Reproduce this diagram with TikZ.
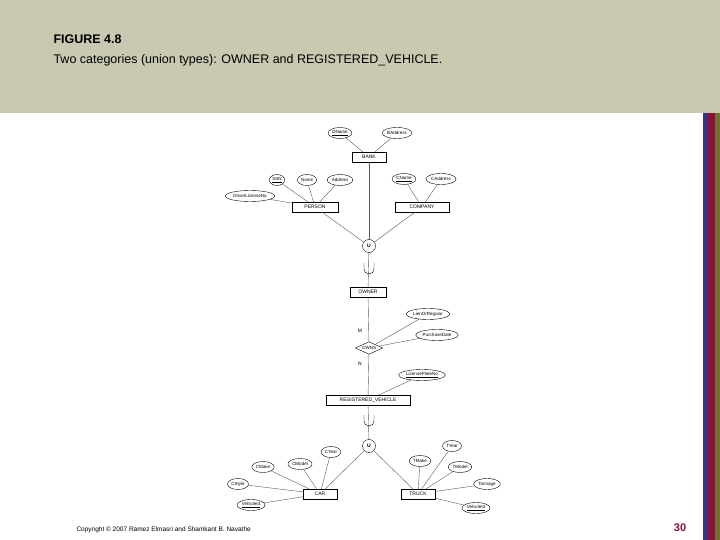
\documentclass[tikz,border=0pt]{standalone}
\usepackage{fontspec}
\setmainfont{Liberation Sans}
\usetikzlibrary{shapes.geometric}
\definecolor{hdr}{RGB}{200,201,176}
\definecolor{sb}{RGB}{60,50,130}
\definecolor{sr}{RGB}{140,15,60}
\definecolor{so}{RGB}{110,115,50}
\begin{document}
\begin{tikzpicture}[x=1pt,y=-1pt,
 ent/.style={draw,thin,font=\fontsize{5}{5}\selectfont,minimum height=10pt,inner sep=1pt},
 att/.style={draw,thin,ellipse,font=\fontsize{4.5}{5}\selectfont,minimum height=11pt,inner sep=0.8pt},
 un/.style={draw,thin,circle,minimum size=13pt,inner sep=0pt,font=\fontsize{5}{5}\selectfont\bfseries},
 ln/.style={thin,gray!70!black}]
\useasboundingbox (0,0) rectangle (720,540);
\fill[hdr] (0,0) rectangle (720,113);
\fill[sb] (703,113) rectangle (708,540);
\fill[sr] (708,113) rectangle (715,540);
\fill[so] (715,113) rectangle (720,540);
\node[anchor=west,font=\fontsize{12.5}{12}\selectfont\bfseries] (t1) at (50,39) {FIGURE 4.8};
\node[anchor=west,font=\fontsize{12.5}{12}\selectfont] (t2) at (50,60) {Two categories (union types): OWNER and REGISTERED\_VEHICLE.};
\node[anchor=west,font=\fontsize{6.5}{7}\selectfont] (cp) at (73,530) {Copyright © 2007 Ramez Elmasri and Shamkant B. Navathe};
\node[font=\fontsize{11}{11}\selectfont\bfseries,text=sr] (pg) at (680,528) {30};
% top
\node[ent,minimum width=34pt] (bank) at (369,157) {BANK};
\node[att] (dname) at (340,133) {\underline{DName}};
\node[att] (badd) at (397,133) {BAddress};
\node[ent,minimum width=46pt] (person) at (315,207) {PERSON};
\node[ent,minimum width=54pt] (company) at (422,207) {COMPANY};
\node[att] (ssn) at (277,180) {\underline{SSN}};
\node[att] (name) at (307,180) {Name};
\node[att] (addr) at (340,180) {Address};
\node[att] (dl) at (250,196) {DriverLicenseNo};
\node[att] (cname) at (404,179) {\underline{CName}};
\node[att] (cadd) at (441,179) {CAddress};
\node[un] (u1) at (369,246) {U};
\foreach \a/\b in {dname/bank,badd/bank,ssn/person,name/person,addr/person,dl/person,cname/company,cadd/company,bank/u1,person/u1,company/u1}
  \draw[ln] (\a) -- (\b);
\node[ent,minimum width=36pt] (owner) at (368,292) {OWNER};
\draw[ln] (u1) -- (owner);
\draw[thin] (364,263) -- (364,269) arc (180:0:5) -- (374,263);
\node[draw,thin,diamond,aspect=2.2,inner sep=1pt,font=\fontsize{4.5}{5}\selectfont] (owns) at (369,348) {OWNS};
\node[att] (lien) at (428,314) {LienOrRegular};
\node[att] (pdate) at (437,335) {PurchaseDate};
\node[att] (lic) at (422,375) {\underline{LicensePlateNo}};
\node[ent,minimum width=84pt] (rv) at (368,400) {REGISTERED\_VEHICLE};
\node[font=\fontsize{5}{5}\selectfont] (m) at (360,331) {M};
\node[font=\fontsize{5}{5}\selectfont] (n) at (360,364) {N};
\draw[ln] (owner) -- (owns) -- (rv);
\draw[ln] (lien) -- (owns); \draw[ln] (pdate) -- (owns); \draw[ln] (lic) -- (rv);
\node[un] (u2) at (369,446) {U};
\draw[ln] (rv) -- (u2);
\draw[thin] (364,415) -- (364,421) arc (180:0:5) -- (374,415);
% bottom
\node[ent,minimum width=34pt] (car) at (320,494) {CAR};
\node[ent,minimum width=34pt] (truck) at (418,494) {TRUCK};
\node[att] (cyear) at (331,452) {CYear};
\node[att] (cmodel) at (300,464) {CModel};
\node[att] (cmake) at (263,467) {CMake};
\node[att] (cstyle) at (238,484) {CStyle};
\node[att] (vid1) at (251,505) {\underline{VehicleId}};
\node[att] (tyear) at (452,446) {TYear};
\node[att] (tmake) at (420,461) {TMake};
\node[att] (tmodel) at (460,467) {TModel};
\node[att] (ton) at (487,484) {Tonnage};
\node[att] (vid2) at (476,508) {\underline{VehicleId}};
\foreach \a/\b in {u2/car,u2/truck,cyear/car,cmodel/car,cmake/car,cstyle/car,vid1/car,tyear/truck,tmake/truck,tmodel/truck,ton/truck,vid2/truck}
  \draw[ln] (\a) -- (\b);
\end{tikzpicture}
\end{document}
